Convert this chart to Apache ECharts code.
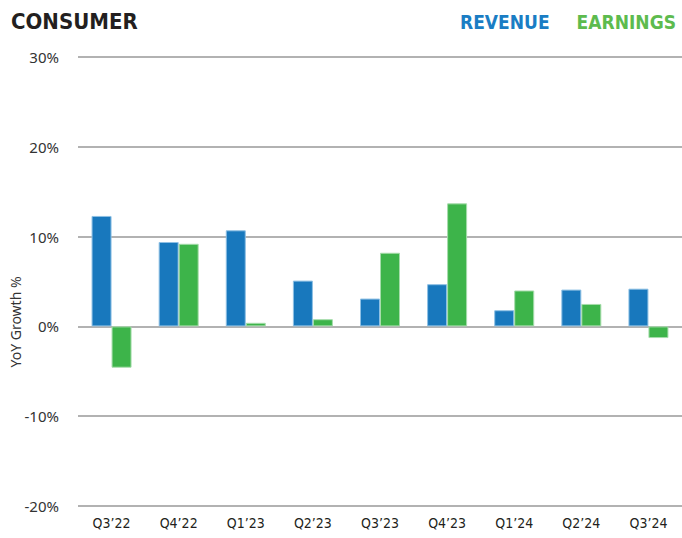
<!DOCTYPE html>
<html lang="en">
<head>
    <meta charset="UTF-8">
    <title>Consumer</title>
    <script type="text/javascript" src="https://cdn.jsdelivr.net/npm/echarts@6/dist/echarts.min.js"></script>
    <style>
        html, body { margin: 0; padding: 0; background: #fff; }
        #chart { width: 682px; height: 538px; }
    </style>
</head>
<body>
<div id="chart"></div>
<script>
    // quarters and YoY growth (%)
    var quarters = ['Q3\u201922', 'Q4\u201922', 'Q1\u201923', 'Q2\u201923', 'Q3\u201923', 'Q4\u201923', 'Q1\u201924', 'Q2\u201924', 'Q3\u201924'];
    var revenue = [12.3, 9.4, 10.7, 5.1, 3.1, 4.7, 1.8, 4.1, 4.2];
    var earnings = [-4.6, 9.2, 0.4, 0.8, 8.2, 13.7, 4.0, 2.5, -1.3];

    var condensed = '"DejaVu Sans Condensed", "Liberation Sans Narrow", sans-serif';

    var chart = echarts.init(document.getElementById('chart'), null, {renderer: 'svg'});
    chart.setOption({
        animation: false,
        title: {
            text: 'CONSUMER',
            left: 6,
            top: 5,
            textStyle: {
                fontFamily: condensed,
                fontSize: 22,
                fontWeight: 'bold',
                color: '#231f20'
            }
        },
        legend: {
            right: 1,
            top: 7,
            itemWidth: 0,
            itemHeight: 0,
            itemGap: 22,
            textStyle: {
                fontFamily: condensed,
                fontSize: 19,
                fontWeight: 'bold'
            },
            data: [
                {name: 'REVENUE', icon: 'none', textStyle: {color: '#1a7dc4'}},
                {name: 'EARNINGS', icon: 'none', textStyle: {color: '#5dbb4e'}}
            ]
        },
        graphic: [{
            type: 'text',
            x: 8,
            y: 322,
            rotation: Math.PI / 2,
            style: {
                text: 'YoY Growth %',
                fontFamily: 'Noto Sans',
                fontSize: 14,
                fill: '#333',
                align: 'center',
                verticalAlign: 'top'
            }
        }],
        grid: {left: 78, right: 0, top: 57, bottom: 32},
        xAxis: {
            type: 'category',
            data: quarters,
            axisLine: {show: false},
            axisTick: {show: false},
            axisLabel: {
                margin: 10,
                fontFamily: condensed,
                fontSize: 14,
                color: '#231f20'
            }
        },
        yAxis: {
            type: 'value',
            min: -20,
            max: 30,
            interval: 10,
            axisLabel: {
                formatter: '{value}%',
                margin: 19,
                fontFamily: 'Noto Sans',
                fontSize: 15,
                color: '#333'
            },
            splitLine: {lineStyle: {color: '#999', width: 1.5}}
        },
        series: [
            {
                name: 'REVENUE',
                type: 'bar',
                data: revenue,
                barWidth: 20,
                barGap: '0%',
                itemStyle: {color: '#1878bd', borderColor: '#8ec0e4', borderWidth: 1}
            },
            {
                name: 'EARNINGS',
                type: 'bar',
                data: earnings,
                barWidth: 20,
                barGap: '0%',
                itemStyle: {color: '#3db44a', borderColor: '#a6dcab', borderWidth: 1}
            }
        ]
    });
</script>
</body>
</html>
